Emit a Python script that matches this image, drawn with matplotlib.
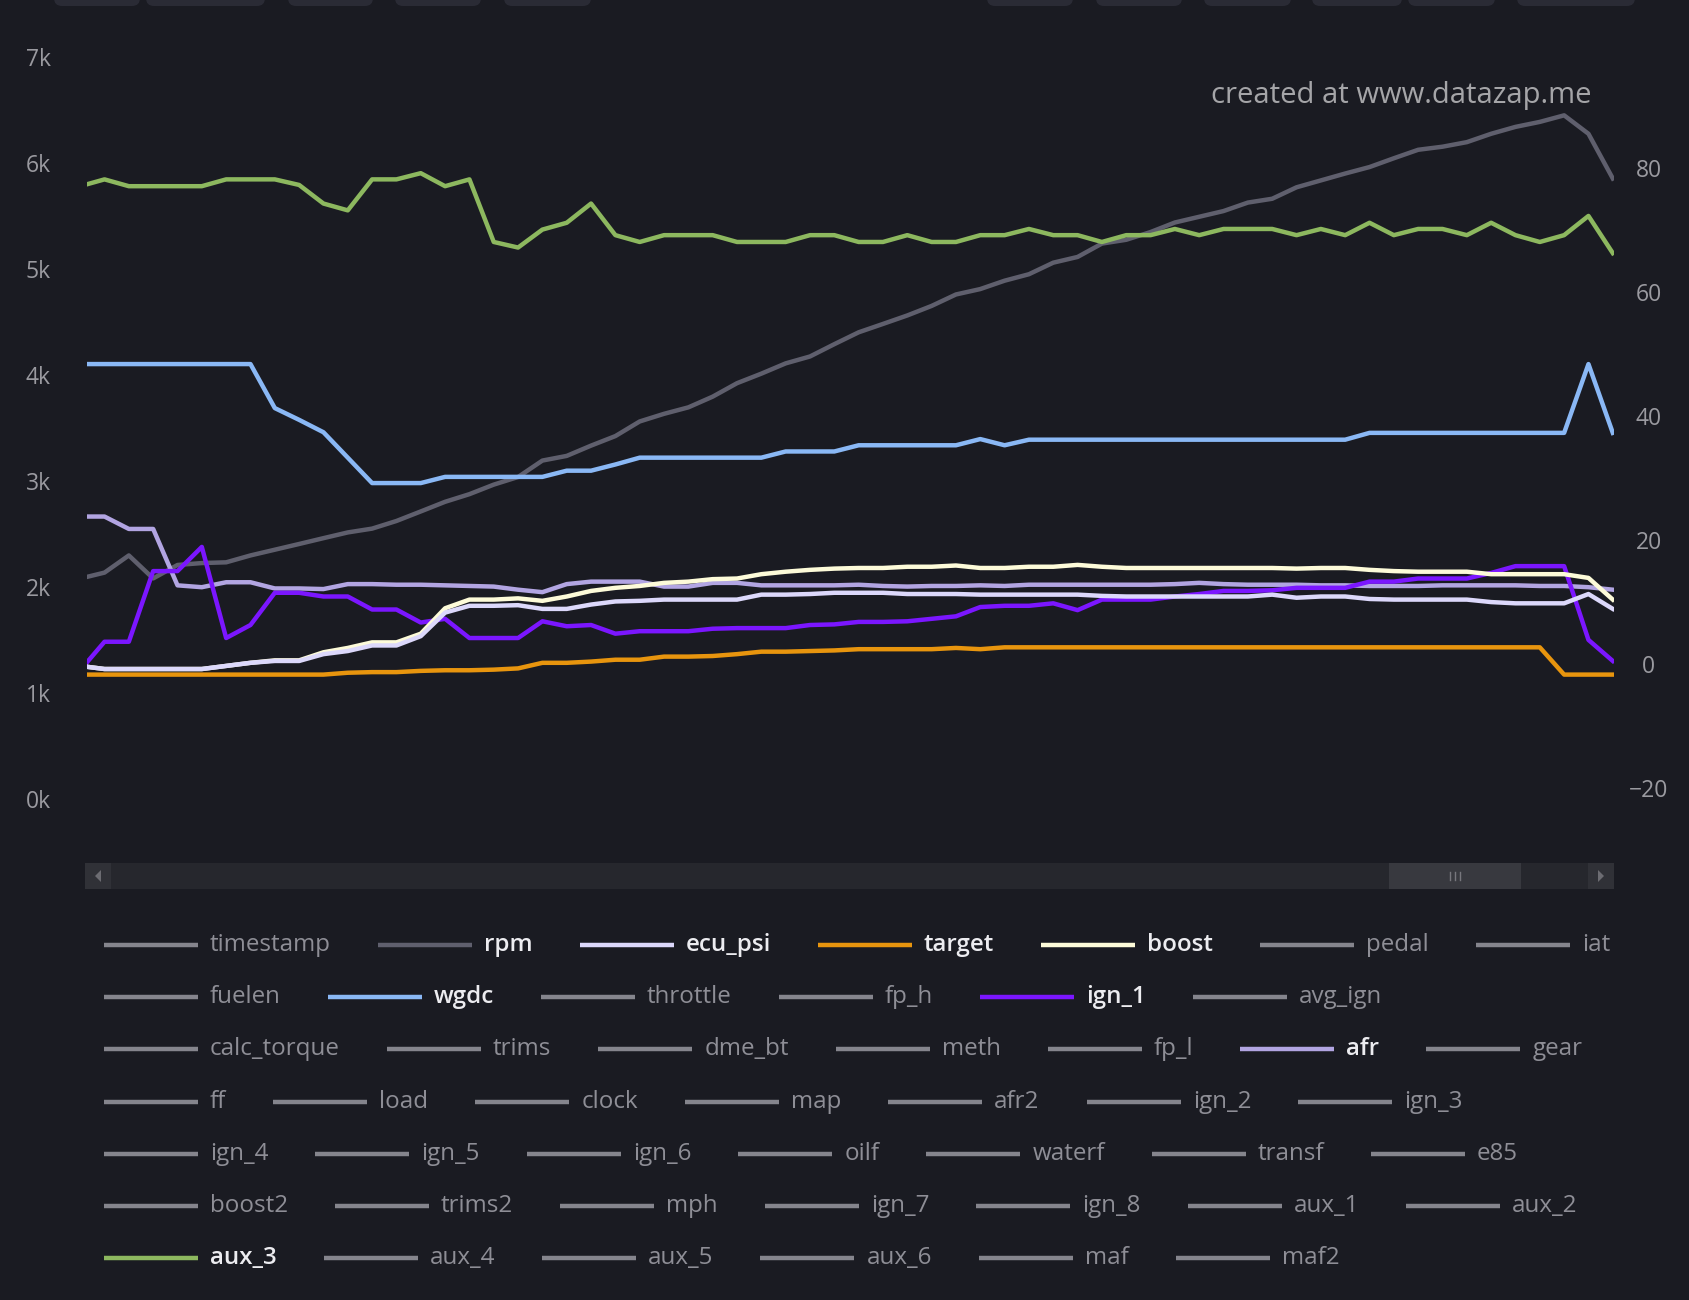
"""Datazap-style log viewer: rpm on the left scale, the other channels on the right."""

import numpy as np
import matplotlib
matplotlib.use('Agg')
import matplotlib.pyplot as plt
from matplotlib.patches import Rectangle, FancyBboxPatch, Polygon


W, H = 1690, 1300
DPI = 100

BG = '#1a1b22'
TICK_COLOR = '#9a9aa0'
INACTIVE_LINE = '#85858d'
INACTIVE_TEXT = '#8e8e96'
ACTIVE_TEXT = '#ececf0'

# logged channels, one value per sample
rpm = [2080, 2136, 2298, 2081, 2208, 2226, 2233, 2298, 2352, 2406,
       2461, 2515, 2551, 2623, 2713, 2804, 2876, 2966, 3038, 3193,
       3237, 3334, 3424, 3562, 3634, 3695, 3796, 3923, 4013, 4110,
       4175, 4291, 4403, 4482, 4562, 4652, 4760, 4811, 4890, 4951,
       5060, 5114, 5240, 5276, 5349, 5439, 5493, 5547, 5627, 5663,
       5771, 5836, 5901, 5962, 6045, 6125, 6154, 6197, 6276, 6341,
       6388, 6450, 6276, 5854]

aux_3 = [77.1, 78.2, 77.1, 77.1, 77.1, 77.1, 78.2, 78.2, 78.2, 77.3,
         74.3, 73.2, 78.2, 78.2, 79.2, 77.1, 78.2, 68.1, 67.2, 70.1,
         71.2, 74.3, 69.2, 68.1, 69.2, 69.2, 69.2, 68.1, 68.1, 68.1,
         69.2, 69.2, 68.1, 68.1, 69.2, 68.1, 68.1, 69.2, 69.2, 70.2,
         69.2, 69.2, 68.1, 69.2, 69.2, 70.2, 69.2, 70.2, 70.2, 70.2,
         69.2, 70.2, 69.2, 71.2, 69.2, 70.2, 70.2, 69.2, 71.2, 69.2,
         68.1, 69.2, 72.3, 66.3]

wgdc = [48.4, 48.4, 48.4, 48.4, 48.4, 48.4, 48.4, 48.4, 41.3, 39.4,
        37.4, 33.3, 29.2, 29.2, 29.2, 30.2, 30.2, 30.2, 30.2, 30.2,
        31.2, 31.2, 32.2, 33.3, 33.3, 33.3, 33.3, 33.3, 33.3, 34.3,
        34.3, 34.3, 35.3, 35.3, 35.3, 35.3, 35.3, 36.3, 35.3, 36.2,
        36.2, 36.2, 36.2, 36.2, 36.2, 36.2, 36.2, 36.2, 36.2, 36.2,
        36.2, 36.2, 36.2, 37.3, 37.3, 37.3, 37.3, 37.3, 37.3, 37.3,
        37.3, 37.3, 48.4, 37.3]

afr = [23.8, 23.8, 21.8, 21.8, 12.7, 12.4, 13.2, 13.2, 12.2, 12.2,
       12.1, 12.9, 12.9, 12.8, 12.8, 12.7, 12.6, 12.5, 12.0, 11.6,
       12.9, 13.3, 13.3, 13.3, 12.5, 12.5, 13.1, 13.1, 12.7, 12.7,
       12.7, 12.7, 12.8, 12.6, 12.5, 12.6, 12.6, 12.7, 12.6, 12.8,
       12.8, 12.8, 12.8, 12.8, 12.8, 12.9, 13.1, 12.9, 12.8, 12.8,
       12.8, 12.7, 12.7, 12.6, 12.6, 12.6, 12.7, 12.7, 12.7, 12.7,
       12.6, 12.6, 12.4, 12.0]

ign_1 = [-1.0, 3.6, 3.6, 15.0, 15.0, 18.9, 4.2, 6.3, 11.5, 11.5,
         10.9, 10.9, 8.8, 8.8, 6.7, 7.3, 4.2, 4.2, 4.2, 6.9,
         6.1, 6.3, 4.9, 5.3, 5.3, 5.3, 5.7, 5.8, 5.8, 5.8,
         6.3, 6.4, 6.8, 6.8, 6.9, 7.3, 7.7, 9.2, 9.4, 9.4,
         9.8, 8.7, 10.4, 10.4, 10.4, 10.9, 11.3, 11.8, 11.8, 11.9,
         12.3, 12.3, 12.3, 13.3, 13.3, 13.8, 13.8, 13.8, 14.7, 15.8,
         15.8, 15.8, 3.9, 0.5]

ecu_psi = [-0.3, -0.8, -0.8, -0.8, -0.8, -0.8, -0.3, 0.2, 0.5, 0.5,
           1.6, 2.1, 3.0, 3.0, 4.5, 8.3, 9.4, 9.4, 9.5, 8.9,
           8.9, 9.6, 10.1, 10.2, 10.4, 10.4, 10.4, 10.4, 11.2, 11.2,
           11.3, 11.5, 11.5, 11.5, 11.3, 11.3, 11.3, 11.2, 11.2, 11.2,
           11.2, 11.2, 11.0, 10.9, 10.9, 10.9, 10.9, 10.9, 10.9, 11.2,
           10.7, 10.9, 10.9, 10.5, 10.4, 10.4, 10.4, 10.4, 10.0, 9.8,
           9.8, 9.8, 11.3, 8.9]

boost = [-0.3, -0.8, -0.8, -0.8, -0.8, -0.8, -0.3, 0.2, 0.6, 0.6,
         1.9, 2.6, 3.5, 3.5, 4.9, 9.0, 10.4, 10.4, 10.6, 10.2,
         10.9, 11.8, 12.3, 12.6, 13.1, 13.3, 13.7, 13.8, 14.5, 14.9,
         15.2, 15.4, 15.5, 15.5, 15.7, 15.7, 15.9, 15.5, 15.5, 15.7,
         15.7, 16.0, 15.7, 15.5, 15.5, 15.5, 15.5, 15.5, 15.5, 15.5,
         15.4, 15.5, 15.5, 15.2, 15.0, 14.9, 14.9, 14.9, 14.5, 14.5,
         14.5, 14.5, 13.9, 10.4]

target = [-1.7, -1.7, -1.7, -1.7, -1.7, -1.7, -1.7, -1.7, -1.7, -1.7,
          -1.7, -1.4, -1.3, -1.3, -1.1, -1.0, -1.0, -0.9, -0.7, 0.2,
          0.2, 0.4, 0.7, 0.7, 1.2, 1.2, 1.3, 1.6, 2.0, 2.0,
          2.1, 2.2, 2.4, 2.4, 2.4, 2.4, 2.6, 2.4, 2.7, 2.7,
          2.7, 2.7, 2.7, 2.7, 2.7, 2.7, 2.7, 2.7, 2.7, 2.7,
          2.7, 2.7, 2.7, 2.7, 2.7, 2.7, 2.7, 2.7, 2.7, 2.7,
          2.7, -1.7, -1.7, -1.7]

LEFT_TICKS = [0, 1000, 2000, 3000, 4000, 5000, 6000, 7000]
LEFT_LABELS = ['0k', '1k', '2k', '3k', '4k', '5k', '6k', '7k']
RIGHT_TICKS = [-20, 0, 20, 40, 60, 80]
RIGHT_LABELS = ['\u221220', '0', '20', '40', '60', '80']

SERIES_COLORS = {
    'rpm': '#5f5f6d',
    'ecu_psi': '#dcd8fb',
    'target': '#e8950e',
    'boost': '#fdfbd9',
    'wgdc': '#8ab8f5',
    'ign_1': '#7b16ff',
    'afr': '#b2a5e2',
    'aux_3': '#8db85f',
}

LEGEND_ROWS = [
    ['timestamp', 'rpm', 'ecu_psi', 'target', 'boost', 'pedal', 'iat'],
    ['fuelen', 'wgdc', 'throttle', 'fp_h', 'ign_1', 'avg_ign'],
    ['calc_torque', 'trims', 'dme_bt', 'meth', 'fp_l', 'afr', 'gear'],
    ['ff', 'load', 'clock', 'map', 'afr2', 'ign_2', 'ign_3'],
    ['ign_4', 'ign_5', 'ign_6', 'oilf', 'waterf', 'transf', 'e85'],
    ['boost2', 'trims2', 'mph', 'ign_7', 'ign_8', 'aux_1', 'aux_2'],
    ['aux_3', 'aux_4', 'aux_5', 'aux_6', 'maf', 'maf2'],
]

# clipped toolbar buttons along the top edge (x0, x1 in px)
TOP_TABS = [(51, 143), (143, 268), (285, 376), (392, 484), (501, 594),
            (984, 1076), (1093, 1185), (1201, 1294), (1309, 1405),
            (1405, 1498), (1514, 1638)]

PLOT_LEFT, PLOT_RIGHT = 87, 1614
PLOT_TOP, PLOT_BOTTOM = 30, 850
LINE_W = 3.2


def draw_chrome(ov):
    """Top tab stubs and the horizontal scrollbar, in pixel coordinates."""
    for x0, x1 in TOP_TABS:
        ov.add_patch(FancyBboxPatch((x0 + 3, -30), x1 - x0 - 6, 36,
                                    boxstyle='round,pad=0,rounding_size=8',
                                    fc='#2a2b35', ec='none'))

    y0, y1 = 863, 889
    ov.add_patch(Rectangle((85, y0), 1529, y1 - y0, fc='#26272d', ec='none'))
    ov.add_patch(Rectangle((85, y0), 26, y1 - y0, fc='#303137', ec='none'))
    ov.add_patch(Rectangle((1588, y0), 26, y1 - y0, fc='#303137', ec='none'))
    ov.add_patch(Rectangle((1389, y0), 132, y1 - y0, fc='#38393f', ec='none'))
    ov.add_patch(Polygon([(101, 870), (101, 882), (95, 876)], fc='#6c6c72', ec='none'))
    ov.add_patch(Polygon([(1598, 870), (1598, 882), (1604, 876)], fc='#6c6c72', ec='none'))
    for gx in (1450, 1455, 1460):
        ov.plot([gx, gx], [872, 880], color='#77777d', lw=1)


def draw_legend(fig, ov):
    """Flow-layout legend: line sample, label, then the next entry on the same row."""
    renderer = fig.canvas.get_renderer()
    line_len, gap, entry_gap = 94, 12, 47
    for row_idx, row in enumerate(LEGEND_ROWS):
        y = 945 + row_idx * 52.2
        x = 104
        for name in row:
            active = name in SERIES_COLORS
            ov.plot([x, x + line_len], [y, y],
                    color=SERIES_COLORS.get(name, INACTIVE_LINE),
                    lw=3.2, solid_capstyle='butt')
            t = ov.text(x + line_len + gap, y, name, va='center', ha='left',
                        fontsize=17.4,
                        color=ACTIVE_TEXT if active else INACTIVE_TEXT,
                        fontweight='semibold' if active else 'normal')
            w_px = t.get_window_extent(renderer).width
            x += line_len + gap + w_px + entry_gap


def main():
    plt.rcParams['font.family'] = ['Open Sans', 'DejaVu Sans']

    fig = plt.figure(figsize=(W / DPI, H / DPI), dpi=DPI, facecolor=BG)

    ov = fig.add_axes([0, 0, 1, 1])
    ov.set_xlim(0, W)
    ov.set_ylim(H, 0)
    ov.axis('off')
    draw_chrome(ov)

    ax = fig.add_axes([PLOT_LEFT / W, 1 - PLOT_BOTTOM / H,
                       (PLOT_RIGHT - PLOT_LEFT) / W, (PLOT_BOTTOM - PLOT_TOP) / H])
    ax.patch.set_alpha(0)
    ax2 = ax.twinx()

    x = np.arange(len(rpm))

    ax.plot(x, rpm, color=SERIES_COLORS['rpm'], lw=LINE_W)
    ax2.plot(x, aux_3, color=SERIES_COLORS['aux_3'], lw=LINE_W)
    ax2.plot(x, wgdc, color=SERIES_COLORS['wgdc'], lw=LINE_W)
    ax2.plot(x, target, color=SERIES_COLORS['target'], lw=LINE_W)
    ax2.plot(x, afr, color=SERIES_COLORS['afr'], lw=LINE_W)
    ax2.plot(x, ign_1, color=SERIES_COLORS['ign_1'], lw=LINE_W)
    ax2.plot(x, boost, color=SERIES_COLORS['boost'], lw=LINE_W)
    ax2.plot(x, ecu_psi, color=SERIES_COLORS['ecu_psi'], lw=LINE_W)

    ax.set_xlim(0.28, 63.05)
    ax.set_ylim(-481, 7255)
    ax2.set_ylim(-30.0, 102.3)

    for a in (ax, ax2):
        for s in a.spines.values():
            s.set_visible(False)
        a.set_xticks([])

    ax.set_yticks(LEFT_TICKS)
    ax.set_yticklabels(LEFT_LABELS)
    ax.tick_params(axis='y', length=0, pad=26, labelsize=16.5, labelcolor=TICK_COLOR)

    ax2.set_yticks(RIGHT_TICKS)
    ax2.set_yticklabels(RIGHT_LABELS)
    ax2.tick_params(axis='y', length=0, pad=25, labelsize=16.5, labelcolor=TICK_COLOR)
    for lab in ax2.get_yticklabels():
        lab.set_horizontalalignment('center')

    ov.text(1592, 103, 'created at www.datazap.me', ha='right', va='baseline',
            fontsize=21.1, color='#a5a5a8')

    draw_legend(fig, ov)

    fig.savefig('out.png', dpi=DPI, facecolor=BG)
    plt.close(fig)


if __name__ == '__main__':
    main()
